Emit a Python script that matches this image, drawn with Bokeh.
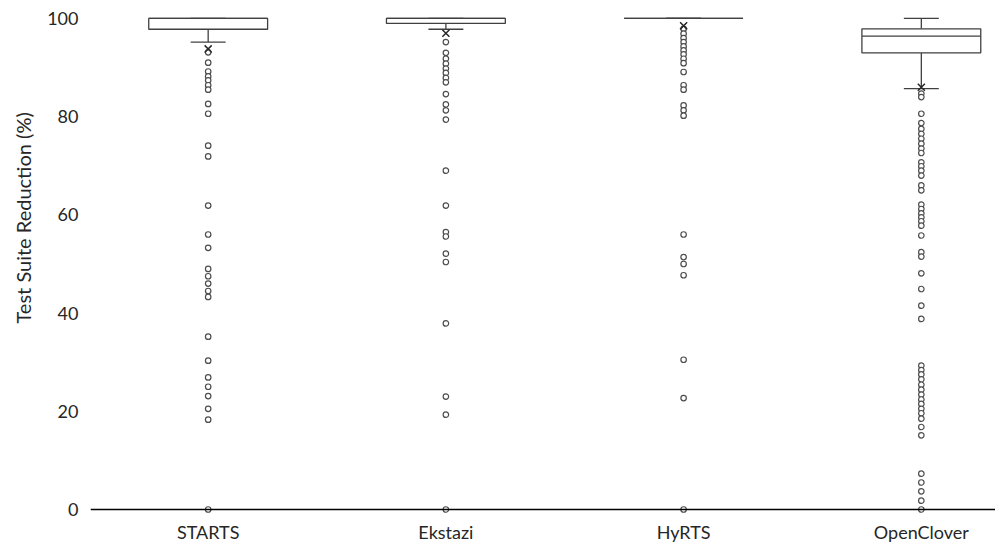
from bokeh.plotting import figure
from bokeh.models import Range1d, FixedTicker, Span, ColumnDataSource, Title
from bokeh.embed import file_html
from bokeh.resources import INLINE

# ---- data ----
categories = ["STARTS", "Ekstazi", "HyRTS", "OpenClover"]
q1 = [97.8, 99.0, 100.0, 93.0]
median = [100.0, 100.0, 100.0, 96.4]
q3 = [100.0, 100.0, 100.0, 97.9]
lower_whisker = [95.2, 97.8, 100.0, 85.7]
upper_whisker = [100.0, 100.0, 100.0, 100.0]
means = [93.8, 97.0, 98.5, 86.0]

outliers_starts = [93.1, 91.0, 89.2, 88.2, 87.4, 86.4, 85.5, 82.6, 80.6, 74.1, 71.9,
                   61.9, 56.0, 53.3, 49.0, 47.5, 46.0, 44.5, 43.3, 35.2, 30.3, 26.9,
                   25.0, 23.1, 20.5, 18.3, 0.0]
outliers_ekstazi = [95.2, 93.0, 91.8, 90.8, 89.8, 88.9, 87.9, 87.0, 84.6, 82.5, 81.3,
                    79.4, 69.0, 61.9, 56.5, 55.6, 52.1, 50.4, 37.9, 23.0, 19.3, 0.0]
outliers_hyrts = [97.9, 96.9, 96.0, 95.2, 94.3, 93.5, 92.7, 91.8, 90.9, 89.1, 86.4,
                  85.5, 82.3, 81.3, 80.2, 56.0, 51.4, 50.0, 47.7, 30.5, 22.7, 0.0]
outliers_openclover = [84.7, 84.0, 80.6, 78.7, 77.5, 76.5, 75.5, 74.5, 73.5, 72.6,
                       70.7, 69.9, 69.0, 68.0, 66.0, 65.0, 62.1, 61.2, 60.3, 59.5,
                       58.7, 57.8, 55.8, 52.4, 51.5, 48.1, 44.9, 41.5, 38.8, 29.3,
                       28.4, 27.5, 26.5, 25.4, 24.4, 23.4, 22.4, 21.5, 20.5, 19.6,
                       18.5, 16.8, 15.1, 7.3, 5.5, 3.7, 1.8, 0.0]
outliers = [outliers_starts, outliers_ekstazi, outliers_hyrts, outliers_openclover]

y_ticks = [0, 20, 40, 60, 80, 100]
y_title = "Test Suite Reduction (%)"

# ---- figure ----
FONT = "Lato"
TEXT_COLOR = "#262626"
LINE_COLOR = "#404040"

xs = list(range(1, len(categories) + 1))
box_w = 0.50
cap_w = 0.147

p = figure(frame_width=905, frame_height=506,
           x_range=Range1d(0.505, 4.312), y_range=Range1d(-1.02, 102.03),
           output_backend="svg", toolbar_location=None,
           min_border_left=90, min_border_right=0, min_border_top=8,
           min_border_bottom=16)
p.outline_line_color = None
p.xgrid.visible = False
p.ygrid.visible = False
p.background_fill_color = "white"
p.border_fill_color = "white"

src = ColumnDataSource(dict(x=xs, q1=q1, q2=median, q3=q3, lo=lower_whisker,
                            hi=upper_whisker, mean=means,
                            cl=[x - cap_w / 2 for x in xs],
                            cr=[x + cap_w / 2 for x in xs],
                            bl=[x - box_w / 2 for x in xs],
                            br=[x + box_w / 2 for x in xs]))

# whiskers
p.segment(x0="x", y0="q1", x1="x", y1="lo", source=src, line_color=LINE_COLOR, line_width=1.3)
p.segment(x0="x", y0="q3", x1="x", y1="hi", source=src, line_color=LINE_COLOR, line_width=1.3)
p.segment(x0="cl", y0="lo", x1="cr", y1="lo", source=src, line_color=LINE_COLOR, line_width=1.3)
p.segment(x0="cl", y0="hi", x1="cr", y1="hi", source=src, line_color=LINE_COLOR, line_width=1.3)

# boxes
p.quad(left="bl", right="br", bottom="q1", top="q3", source=src,
       fill_color="white", line_color=LINE_COLOR, line_width=1.3)
p.segment(x0="bl", y0="q2", x1="br", y1="q2", source=src, line_color=LINE_COLOR, line_width=1.3)

# outliers
ox, oy = [], []
for x, vals in zip(xs, outliers):
    ox += [x] * len(vals)
    oy += vals
p.scatter(ox, oy, marker="circle", size=5.5, fill_color="white",
          line_color="#4d4d4d", line_width=1.2)

# axis baseline at 0
p.add_layout(Span(location=0, dimension="width", line_color="black", line_width=1.3))

# means
p.scatter(x="x", y="mean", source=src, marker="x", size=10, line_color="#262626", line_width=1.5)

# axes
p.xaxis.ticker = FixedTicker(ticks=xs)
p.xaxis.major_label_overrides = {x: c for x, c in zip(xs, categories)}
p.xaxis.axis_line_color = None
p.xaxis.major_tick_line_color = None
p.xaxis.minor_tick_line_color = None
p.xaxis.major_label_standoff = 0
p.xaxis.major_label_text_font = FONT
p.xaxis.major_label_text_font_size = "18px"
p.xaxis.major_label_text_color = TEXT_COLOR

p.yaxis.ticker = FixedTicker(ticks=y_ticks)
p.yaxis.axis_line_color = None
p.yaxis.major_tick_line_color = None
p.yaxis.minor_tick_line_color = None
p.yaxis.major_label_standoff = 6
p.yaxis.major_label_text_font = FONT
p.yaxis.major_label_text_font_size = "18px"
p.yaxis.major_label_text_color = TEXT_COLOR

# y-axis title, placed (like the original) above the frame centre
p.add_layout(Title(text=y_title, align="left", offset=191, vertical_align="middle",
                   text_font=FONT, text_font_size="20px", text_font_style="normal",
                   text_color=TEXT_COLOR, standoff=17), "left")

open("out.html", "w").write(file_html(p, INLINE))
